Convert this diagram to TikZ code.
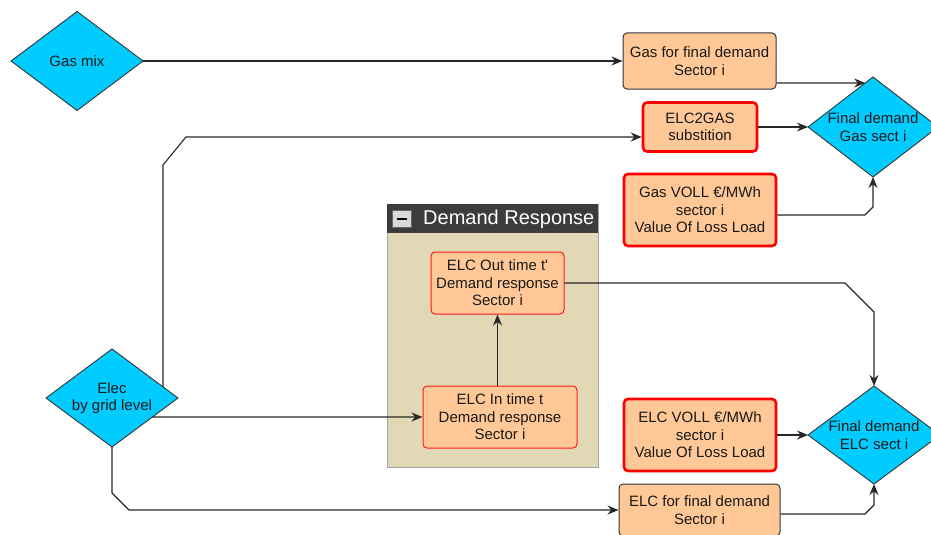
\documentclass[tikz,border=0pt]{standalone}
\usepackage{fontspec}
\setmainfont{Liberation Sans}
\usetikzlibrary{shapes.geometric,arrows.meta,calc}
\definecolor{dcyan}{RGB}{0,204,255}
\definecolor{boxfill}{RGB}{255,200,150}
\definecolor{drfill}{RGB}{227,216,181}
\definecolor{hdr}{RGB}{60,60,60}
\definecolor{linec}{RGB}{40,40,40}
\tikzset{
  txt/.style={font=\fontsize{15}{17.5}\selectfont, align=center, text=black!90},
  dia/.style={shape=diamond, draw=black!80, fill=dcyan, line width=0.9pt, inner sep=0pt, outer sep=0pt, minimum width=#1},
  diatext/.style={txt, inner sep=0pt},
  plainbox/.style={txt, rectangle, rounded corners=4pt, fill=boxfill, draw=black!80, line width=1pt, inner sep=0pt},
  redbox/.style={txt, rectangle, rounded corners=4pt, fill=boxfill, draw=red, line width=2.6pt, inner sep=0pt},
  thinred/.style={txt, rectangle, rounded corners=4pt, fill=boxfill, draw=red!90, line width=1pt, inner sep=0pt},
  conn/.style={draw=linec, line width=1.1pt},
  arr/.style={conn, -{Stealth[length=11pt,width=9pt]}}
}
\begin{document}
\begin{tikzpicture}[x=1pt,y=-1pt]
\useasboundingbox (0,0) rectangle (931,535);
% demand response group
\node[draw=black!35, fill=drfill, line width=1pt, minimum width=211pt, minimum height=263pt, inner sep=0pt, anchor=north west] (drgroup) at (387,204) {};
\node[fill=hdr, minimum width=211pt, minimum height=29pt, inner sep=0pt, anchor=north west] (drhead) at (387,204) {};
\node[fill=black!15, draw=black!60, line width=0.8pt, minimum width=19pt, minimum height=17pt, inner sep=0pt] (drminus) at (401.5,218.5) {};
\draw[line width=2pt, black] ($(drminus.center)+(-5,0)$) -- ($(drminus.center)+(5,0)$);
\node[text=white, font=\fontsize{20}{22}\selectfont, anchor=west, inner sep=0pt] (drtitle) at (423,219) {Demand Response};

% diamonds
\node[dia=132pt, minimum height=99pt] (gasmix) at (77,61) {};
\node[diatext] (gasmixt) at (gasmix.center) {Gas mix};
\node[dia=132pt, minimum height=98pt] (elec) at (112,398) {};
\node[diatext] (elect) at (elec.center) {Elec\\by grid level};
\node[dia=130pt, minimum height=100pt] (gasd) at (873,127) {};
\node[diatext] (gasdt) at (gasd.center) {Final demand\\Gas sect i};
\node[dia=132pt, minimum height=98pt] (elcd) at (874,435) {};
\node[diatext] (elcdt) at (elcd.center) {Final demand\\ELC sect i};

% boxes
\node[plainbox, minimum width=153pt, minimum height=56pt] (gasfin) at (699.5,61) {Gas for final demand\\Sector i};
\node[redbox, minimum width=114pt, minimum height=49pt] (elc2gas) at (700,127) {ELC2GAS\\substition};
\node[redbox, minimum width=152pt, minimum height=72pt] (gasvoll) at (700,210) {Gas VOLL €/MWh\\sector i\\Value Of Loss Load};
\node[redbox, minimum width=152pt, minimum height=72pt] (elcvoll) at (700,435) {ELC VOLL €/MWh\\sector i\\Value Of Loss Load};
\node[plainbox, minimum width=161pt, minimum height=52pt] (elcfin) at (699.5,510) {ELC for final demand\\Sector i};
\node[thinred, minimum width=133pt, minimum height=62pt] (elcout) at (497.5,283) {ELC Out time t\textquotesingle\\Demand response\\Sector i};
\node[thinred, minimum width=154pt, minimum height=62pt] (elcin) at (500,417) {ELC In time t\\Demand response\\Sector i};

% connectors
\draw[arr] (gasmix.east) -- (gasfin.west);
\draw[arr] ([yshift=-22pt]gasfin.east) -- ($(gasd.west)!0.88!(gasd.north)$);
\draw[arr] (elc2gas.east) -- (gasd.west);
\draw[arr] ([yshift=-5pt]gasvoll.east) -- (865,215) -- (873,207) -- (gasd.south);
\draw[arr] ($(elec.north)!0.773!(elec.east)$) -- (163,165) -- (186,137) -- ([yshift=-10pt]elc2gas.west);
\draw[arr] ($(elec.east)!0.388!(elec.south)$) -- (elcin.west);
\draw[arr] (elec.south) -- (112,493) -- (129,510) -- (elcfin.west);
\draw[arr] (elcin.north -| elcout.south) -- (elcout.south);
\draw[arr] (elcout.east) -- (845,283) -- (874,312) -- (elcd.north);
\draw[arr] (elcvoll.east) -- (elcd.west);
\draw[arr] ([yshift=-4pt]elcfin.east) -- (865,514) -- (874,505) -- (elcd.south);
\end{tikzpicture}
\end{document}
